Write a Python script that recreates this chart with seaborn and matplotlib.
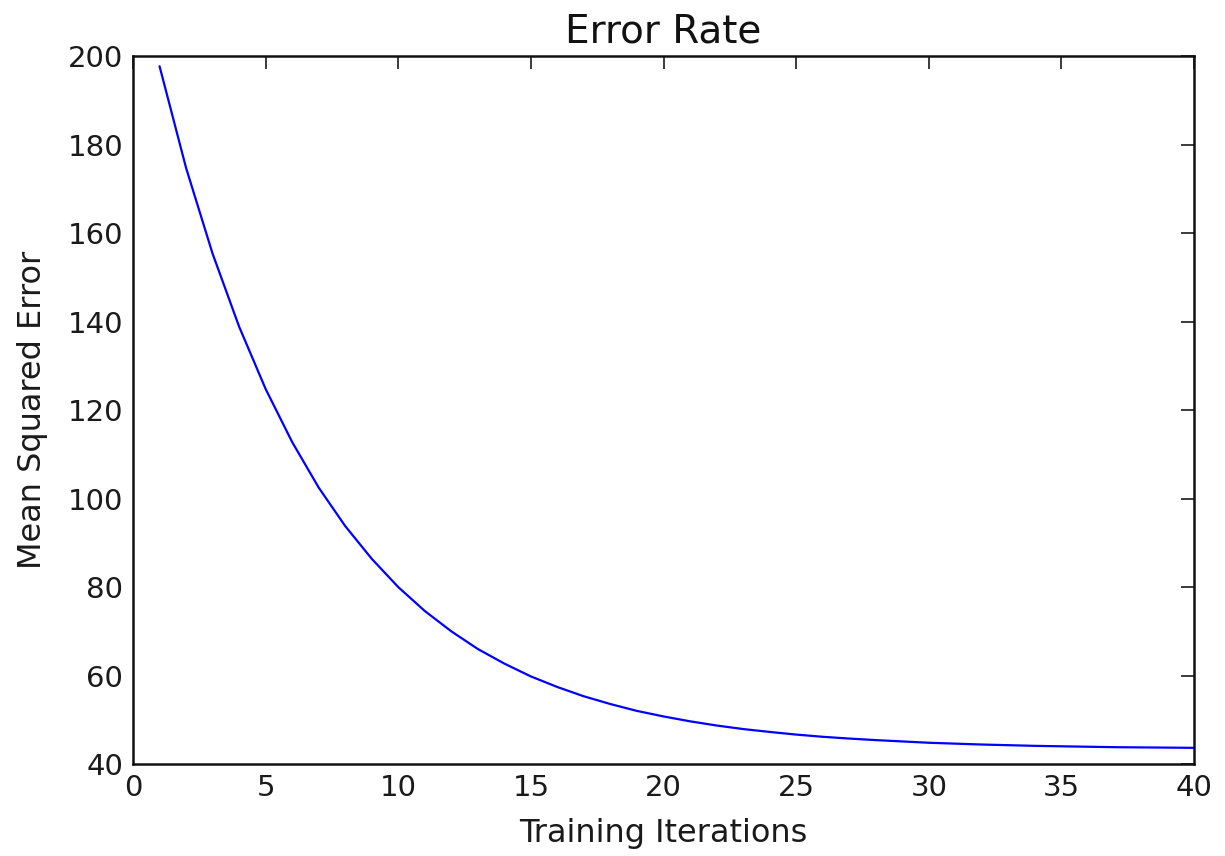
import matplotlib
matplotlib.use("Agg")
import matplotlib.pyplot as plt
import seaborn as sns
import pandas as pd

iterations = list(range(1, 41))
mse = [197.8, 174.8, 155.4, 138.9, 124.8, 112.8, 102.5, 93.8, 86.4, 80.0,
       74.6, 70.0, 66.0, 62.7, 59.8, 57.4, 55.3, 53.55, 52.0, 50.75,
       49.65, 48.7, 47.9, 47.25, 46.65, 46.15, 45.75, 45.4, 45.1, 44.8,
       44.6, 44.4, 44.25, 44.1, 44.0, 43.9, 43.8, 43.75, 43.7, 43.65]

title = "Error Rate"
xlabel = "Training Iterations"
ylabel = "Mean Squared Error"
xticks = [0, 5, 10, 15, 20, 25, 30, 35, 40]
yticks = [40, 60, 80, 100, 120, 140, 160, 180, 200]

sns.set_theme(style="white")
plt.rcParams['font.family'] = ['DejaVu Sans']

df = pd.DataFrame({"iter": iterations, "mse": mse})

fig = plt.figure(figsize=(12.25, 8.56), dpi=100)
ax = fig.add_axes([0.1086, 0.1075, 0.9747 - 0.1086, 0.934 - 0.1075])
sns.lineplot(data=df, x="iter", y="mse", color="#0000ff", linewidth=1.6, ax=ax)

ax.set_xlim(0, 40)
ax.set_ylim(40, 200)
ax.set_xticks(xticks)
ax.set_yticks(yticks)
ax.tick_params(direction="in", length=9.5, width=1.2, top=True, right=True,
               labelsize=21, colors="#1a1a1a", pad=7)
for s in ax.spines.values():
    s.set_visible(True)
    s.set_color("#111111")
    s.set_linewidth(1.8)
ax.set_title(title, fontsize=28, color="#111111", pad=10)
ax.set_xlabel(xlabel, fontsize=23, color="#1a1a1a", labelpad=12)
ax.set_ylabel(ylabel, fontsize=23, color="#1a1a1a", labelpad=14)

fig.savefig("out.png", dpi=100)
